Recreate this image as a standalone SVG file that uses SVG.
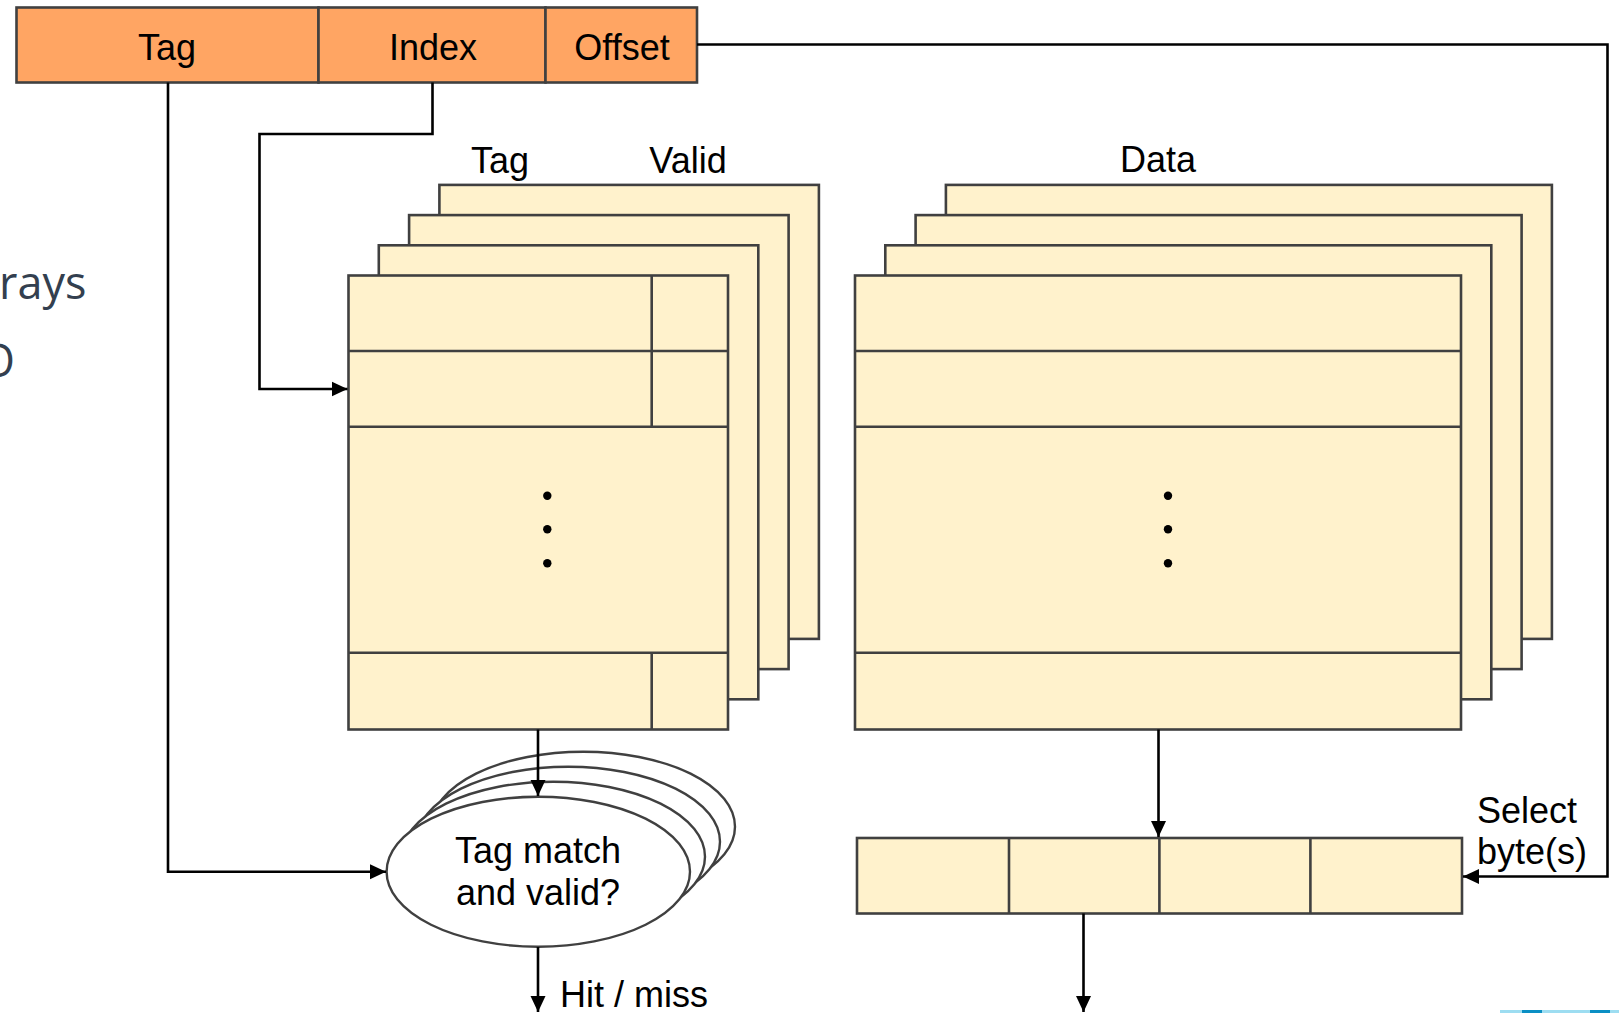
<svg xmlns="http://www.w3.org/2000/svg" width="1619" height="1013" viewBox="0 0 1619 1013">
  <style>
    .lbl { font-family: "Liberation Sans", Arial, sans-serif; font-size: 36px; fill: #000; }
    .mid { text-anchor: middle; }
    .cell { fill: #FFF2CC; stroke: #404040; stroke-width: 2.6; }
    .field { fill: #FFA563; stroke: #404040; stroke-width: 2.6; }
    .div { stroke: #404040; stroke-width: 2.6; fill: none; }
    .cmp { fill: #FFFFFF; stroke: #404040; stroke-width: 2.4; }
    .wire { fill: none; stroke: #000; stroke-width: 2.6; }
    .slide { font-family: "Open Sans", "Noto Sans", sans-serif; font-size: 45px; fill: #333F4F; }
  </style>
  <defs>
    <marker id="arr" markerUnits="userSpaceOnUse" markerWidth="17" markerHeight="17" viewBox="0 0 17 17" refX="16" refY="8.5" orient="auto">
      <path d="M0,1 L16,8.5 L0,16 Z" fill="#000"/>
    </marker>
  </defs>
  <rect width="1619" height="1013" fill="#FFFFFF"/>

  <!-- slide remnants -->
  <text class="slide" x="-1" y="299">rays</text>
  <text class="slide" x="-20" y="377">O</text>
  <rect x="1500" y="1010" width="119" height="3" fill="#5CC6E8" opacity="0.6"/>
  <rect x="1522" y="1010" width="20" height="3" fill="#0A8FC4"/>
  <rect x="1590" y="1010" width="20" height="3" fill="#0A8FC4"/>

  <!-- address fields -->
  <g id="address">
    <rect class="field" x="16.5" y="7.5" width="302" height="75"/>
    <rect class="field" x="318.5" y="7.5" width="227" height="75"/>
    <rect class="field" x="545.5" y="7.5" width="151.5" height="75"/>
    <text class="lbl mid" x="167" y="60">Tag</text>
    <text class="lbl mid" x="433" y="60">Index</text>
    <text class="lbl mid" x="622" y="60">Offset</text>
  </g>

  <!-- tag/valid array stack -->
  <g id="tag-array">
    <text class="lbl mid" x="500" y="173">Tag</text>
    <text class="lbl mid" x="688" y="173">Valid</text>
    <rect class="cell" x="439.4" y="184.9" width="379.5" height="454"/>
    <rect class="cell" x="409.1" y="215.1" width="379.5" height="454"/>
    <rect class="cell" x="378.8" y="245.3" width="379.5" height="454"/>
    <rect class="cell" x="348.5" y="275.5" width="379.5" height="454"/>
    <path class="div" d="M348.5,351 H728 M348.5,426.7 H728 M348.5,652.7 H728 M651.7,275.5 V426.7 M651.7,652.7 V729.5"/>
    <circle cx="547.3" cy="495.7" r="4.2" fill="#000"/>
    <circle cx="547.3" cy="529.3" r="4.2" fill="#000"/>
    <circle cx="547.3" cy="563.3" r="4.2" fill="#000"/>
  </g>

  <!-- data array stack -->
  <g id="data-array">
    <text class="lbl mid" x="1158" y="172">Data</text>
    <rect class="cell" x="945.9" y="184.9" width="606" height="454"/>
    <rect class="cell" x="915.6" y="215.1" width="606" height="454"/>
    <rect class="cell" x="885.3" y="245.3" width="606" height="454"/>
    <rect class="cell" x="855" y="275.5" width="606" height="454"/>
    <path class="div" d="M855,351 H1461 M855,426.7 H1461 M855,652.7 H1461"/>
    <circle cx="1168" cy="495.7" r="4.2" fill="#000"/>
    <circle cx="1168" cy="529.3" r="4.2" fill="#000"/>
    <circle cx="1168" cy="563.3" r="4.2" fill="#000"/>
  </g>

  <!-- comparators -->
  <g id="tag-compare">
    <ellipse class="cmp" cx="583.3" cy="826.7" rx="151.7" ry="75"/>
    <ellipse class="cmp" cx="568.3" cy="841.7" rx="151.7" ry="75"/>
    <ellipse class="cmp" cx="553.3" cy="856.7" rx="151.7" ry="75"/>
    <ellipse class="cmp" cx="538.3" cy="871.7" rx="151.7" ry="75"/>
    <text class="lbl mid" x="538" y="863">Tag match</text>
    <text class="lbl mid" x="538" y="905">and valid?</text>
  </g>

  <!-- selected block bytes -->
  <g id="byte-select">
    <rect class="cell" x="857" y="838" width="605" height="75.5"/>
    <path class="div" d="M1009,838 V913.5 M1159.4,838 V913.5 M1310.4,838 V913.5"/>
  </g>

  <g id="labels">
    <text class="lbl" x="1477" y="823">Select</text>
    <text class="lbl" x="1477" y="864">byte(s)</text>
    <text class="lbl" x="560" y="1007">Hit / miss</text>
  </g>

  <!-- connectors -->
  <g id="connectors">
    <path class="wire" d="M697,44.5 H1607.5 V876.5 H1463" marker-end="url(#arr)"/>
    <path class="wire" d="M168,82.5 V871.7 H386" marker-end="url(#arr)"/>
    <path class="wire" d="M432.5,82.5 V134 H259.5 V389 H347.5" marker-end="url(#arr)"/>
    <path class="wire" d="M538,729.5 V796" marker-end="url(#arr)"/>
    <path class="wire" d="M538,947 V1012" marker-end="url(#arr)"/>
    <path class="wire" d="M1158.5,729.5 V837" marker-end="url(#arr)"/>
    <path class="wire" d="M1083.5,913.5 V1012" marker-end="url(#arr)"/>
  </g>
</svg>
